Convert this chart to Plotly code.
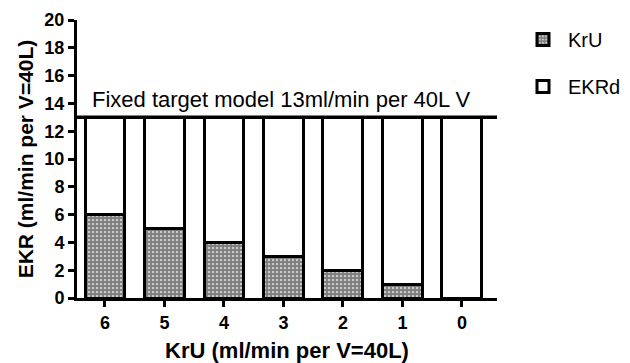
import plotly.graph_objects as go

categories = ["6", "5", "4", "3", "2", "1", "0"]
kru = [6, 5, 4, 3, 2, 1, 0]
target = 13
ekrd = [target - v for v in kru]
y_ticks = [0, 2, 4, 6, 8, 10, 12, 14, 16, 18, 20]

xpos = list(range(len(categories)))
FONT = "Liberation Sans, Arial, sans-serif"

fig = go.Figure()
fig.add_trace(go.Bar(
    x=xpos, y=kru, name="KrU", legendgroup="a",
    marker=dict(color="white", line=dict(color="black", width=3),
                pattern=dict(shape=".", fgcolor="black", bgcolor="white", size=4, solidity=0.8)),
    width=0.67,
))
fig.add_trace(go.Bar(
    x=xpos, y=ekrd, name="EKRd", legendgroup="b",
    marker=dict(color="white", line=dict(color="black", width=3)),
    width=0.67,
))

fig.add_shape(type="line", xref="paper", yref="y", x0=0, x1=1, y0=target, y1=target,
              line=dict(color="black", width=3.5), layer="above")
fig.add_annotation(text="Fixed target model 13ml/min per 40L V", xref="x", yref="y",
                   x=2.97, y=target + 0.25, yanchor="bottom", showarrow=False,
                   font=dict(family=FONT, size=22, color="black"))

# the page body adds an 8px offset, so the figure is 8px smaller and margins compensate
fig.update_layout(
    width=622, height=355,
    margin=dict(l=69, r=133, t=12, b=65, autoexpand=False),
    barmode="stack",
    plot_bgcolor="white", paper_bgcolor="white",
    font=dict(family=FONT, color="black"),
    showlegend=True,
    legend=dict(x=1.05, y=1.0, xanchor="left", yanchor="top", traceorder="grouped",
                tracegroupgap=18, itemwidth=40, font=dict(family=FONT, size=20, color="black"),
                bgcolor="rgba(0,0,0,0)"),
    xaxis=dict(range=[-0.47, 6.59], tickmode="array", tickvals=xpos, ticktext=categories,
               showline=True, linecolor="black", linewidth=3, ticks="outside", ticklen=6,
               tickwidth=2.5, tickcolor="black", showgrid=False, zeroline=False,
               automargin=False,
               tickfont=dict(family=FONT, size=18, color="black", weight="bold"),
               title=dict(text="<b>KrU (ml/min per V=40L)</b>", font=dict(family=FONT, size=22),
                          standoff=14)),
    yaxis=dict(range=[0, 20], tickmode="array", tickvals=y_ticks,
               showline=True, linecolor="black", linewidth=3, ticks="outside", ticklen=6,
               tickwidth=2.5, tickcolor="black", showgrid=False, zeroline=False,
               automargin=False,
               tickfont=dict(family=FONT, size=18, color="black", weight="bold"),
               title=dict(text="<b>EKR (ml/min per V=40L)</b>", font=dict(family=FONT, size=21),
                          standoff=6)),
)

fig.write_html("out.html")
